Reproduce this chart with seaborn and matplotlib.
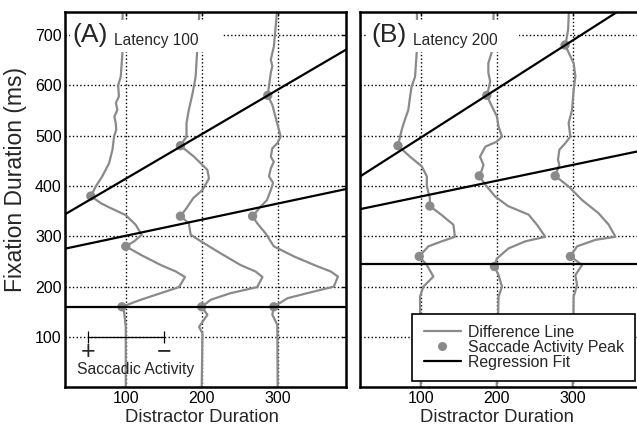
import matplotlib
matplotlib.use("Agg")
import matplotlib.pyplot as plt
import seaborn as sns
from matplotlib.lines import Line2D
from matplotlib.patches import Rectangle

sns.set_style("white")
plt.rcParams["font.family"] = ["Liberation Sans", "DejaVu Sans"]

# ---------------- data ----------------
distractor_ticks = [100, 200, 300]
fixation_ticks = [100, 200, 300, 400, 500, 600, 700]

# Latency 100: difference lines (fixation duration vs. horizontal position)
a100_fix = [0, 120, 150, 160, 174, 187, 199, 219, 230, 243, 263, 280, 290, 303, 323, 342, 359, 366,
            380, 399, 419, 445, 472, 498, 512, 525, 538, 551, 565, 578, 600, 617, 640, 664, 700, 745]
a100_pos = [100, 100, 97.8, 95, 120, 146, 170, 178, 166, 146, 120, 100, 111, 121, 113, 100, 76, 67,
            54, 60.5, 69, 78, 82.5, 84.6, 87.5, 86.8, 85, 89, 87, 91, 90, 93.4, 94.5, 95.6, 95, 96]
a200_fix = [0, 107, 120, 144, 160, 174, 187, 199, 219, 230, 243, 266, 290, 303, 326, 340, 356, 376,
            392, 415, 432, 458, 480, 498, 525, 551, 584, 617, 667, 700, 745]
a200_pos = [200, 201, 196.5, 207.5, 200, 212, 238, 273, 280, 271, 251, 225, 199, 185.5, 183, 172, 180, 189,
            201, 209.6, 207.5, 190, 172, 180, 180, 183, 188, 192, 194, 195, 197]
a300_fix = [0, 124, 144, 160, 177, 187, 200, 220, 230, 243, 260, 280, 306, 326, 340, 359, 372, 392,
            406, 419, 435, 448, 458, 475, 485, 498, 538, 561, 580, 598, 625, 638, 651, 677, 710, 745]
a300_pos = [300, 299.6, 293, 295, 313, 339, 374, 379.4, 370, 348, 321.5, 295, 284, 273, 267, 277.6, 286, 291,
            294, 288.6, 291, 295, 291, 293, 299.6, 304, 297, 293, 287, 288.6, 291, 293, 291, 295, 297, 299]
a_peak_pos = [95, 200, 295, 100, 172, 267, 54, 172, 287]
a_peak_fix = [160, 160, 160, 280, 340, 340, 380, 480, 580]
a_fit_intercept = [160, 269, 326]
a_fit_slope = [0, 0.32, 0.884]

# Latency 200
b100_fix = [0, 180, 200, 220, 243, 260, 280, 290, 299, 323, 342, 360, 376, 399, 419, 439, 458, 480,
            512, 531, 551, 578, 598, 617, 666, 700, 745]
b100_pos = [100, 99, 103.4, 116.6, 108, 98, 110, 127.7, 145, 143, 127.7, 112, 112, 108, 108, 101.3, 86, 70,
            75, 79, 83.6, 86, 88, 92.5, 94.7, 95, 95]
b200_fix = [0, 180, 200, 223, 240, 256, 276, 290, 299, 323, 343, 360, 379, 399, 419, 432, 442, 458,
            478, 488, 498, 518, 538, 558, 580, 591, 608, 625, 644, 667, 700, 745]
b200_pos = [200, 202.4, 207, 202.4, 197, 200.3, 215.6, 237.6, 264, 253, 242, 215, 198, 187, 177, 180.5, 182.6, 178,
            185, 200, 207, 202.4, 200.3, 193.7, 187, 189, 191.4, 189, 189, 193.7, 195, 196]
b300_fix = [0, 180, 203, 223, 243, 260, 280, 293, 299, 323, 346, 372, 399, 420, 442, 452, 472, 485,
            498, 525, 551, 591, 618, 644, 680, 684, 710, 745]
b300_pos = [300, 301.3, 305.8, 303.6, 312.4, 297, 305.8, 330, 356.3, 347.5, 334, 312.4, 294.7, 277, 282.5, 280.7,
            282.5, 290.4, 297, 294.7, 299.2, 301.3, 303.6, 301.3, 290, 291, 294, 295]
b_peak_pos = [98, 197, 297, 112, 177, 277, 70, 187, 290]
b_peak_fix = [260, 240, 260, 360, 420, 420, 480, 580, 680]
b_fit_intercept = [245, 347.6, 399.5]
b_fit_slope = [0, 0.314, 0.9655]

# saccadic activity scale bar
activity_scale = [50, 150]
activity_level = 100

# ---------------- figure ----------------
GRAY = "#8a8a8a"
W, H = 637, 429
fig = plt.figure(figsize=(W / 100, H / 100), dpi=100)
axA = fig.add_axes([65 / W, 41.7 / H, 281 / W, 375 / H])
axB = fig.add_axes([360 / W, 41.7 / H, 281 / W, 375 / H])

panels = [
    (axA, [(a100_pos, a100_fix), (a200_pos, a200_fix), (a300_pos, a300_fix)],
     a_peak_pos, a_peak_fix, a_fit_intercept, a_fit_slope, "(A)", "Latency 100"),
    (axB, [(b100_pos, b100_fix), (b200_pos, b200_fix), (b300_pos, b300_fix)],
     b_peak_pos, b_peak_fix, b_fit_intercept, b_fit_slope, "(B)", "Latency 200"),
]

for i, (ax, curves, ppos, pfix, icpt, slope, tag, subtitle) in enumerate(panels):
    for pos, fix in curves:
        sns.lineplot(x=pos, y=fix, sort=False, estimator=None, ax=ax,
                     color=GRAY, linewidth=1.6, zorder=2)
    sns.scatterplot(x=ppos, y=pfix, ax=ax, color=GRAY, s=45,
                    edgecolor="none", zorder=3)
    for b, m in zip(icpt, slope):
        ax.axline((0, b), slope=m, color="black", linewidth=1.6, zorder=3)

    ax.set_xlim(20, 390)
    ax.set_ylim(0, 745)
    ax.set_xticks(distractor_ticks)
    ax.set_yticks(fixation_ticks)
    ax.grid(True, linestyle=":", color="black", linewidth=1.0)
    ax.set_axisbelow(True)
    for sp in ax.spines.values():
        sp.set_color("black")
        sp.set_linewidth(1.8)
    ax.tick_params(direction="in", length=3, width=1, top=True, right=True,
                   labelsize=11.5, colors="black", pad=3)
    ax.tick_params(axis="y", pad=2.4)
    ax.set_xlabel("Distractor Duration", fontsize=13.3)
    ax.xaxis.set_label_coords(0.487, -0.058)

    # text panel heading on a white box
    x0 = 0.018 if i == 0 else 0.025
    ax.add_patch(Rectangle((x0, 0.894), 0.54, 0.085, transform=ax.transAxes,
                           facecolor="white", edgecolor="none", zorder=4))
    ax.text(0.028 if i == 0 else 0.041, 700, tag, fontsize=19, va="center",
            ha="left", transform=ax.get_yaxis_transform(), zorder=5)
    ax.text(0.175 if i == 0 else 0.19, 681, subtitle, fontsize=11.2, va="baseline",
            ha="left", transform=ax.get_yaxis_transform(), zorder=5)

axA.set_ylabel("Fixation Duration (ms)", fontsize=16.5)
axA.yaxis.set_label_coords(-0.135, 0.553)
axB.set_yticklabels([])

# saccadic activity scale (panel A)
axA.plot(activity_scale, [activity_level, activity_level], color="black", linewidth=0.9,
         marker="|", markersize=8, markeredgewidth=0.9, zorder=4)
axA.text(activity_scale[0] + 1, 70, "+", fontsize=18, ha="center", va="center", zorder=5)
axA.text(activity_scale[1] + 1, 72, "\u2212", fontsize=18, ha="center", va="center", zorder=5)
axA.text(113, 26, "Saccadic Activity", fontsize=11.3, ha="center", va="baseline", zorder=5)

# legend (panel B)
handles = [
    Line2D([], [], color=GRAY, linewidth=1.6),
    Line2D([], [], color=GRAY, linestyle="none", marker="o", markersize=6.5, markeredgecolor="none"),
    Line2D([], [], color="black", linewidth=1.6),
]
labels = ["Difference Line", "Saccade Activity Peak", "Regression Fit"]
leg = axB.legend(handles, labels, loc="lower right", bbox_to_anchor=(0.979, 0.017),
                 borderaxespad=0, fontsize=11.4, frameon=True, fancybox=False,
                 framealpha=1, edgecolor="black", borderpad=0.7, labelspacing=0.0,
                 handlelength=2.35, handletextpad=0.45)
leg.get_frame().set_linewidth(1.2)
leg.set_zorder(6)

fig.savefig("out.png", dpi=100)
